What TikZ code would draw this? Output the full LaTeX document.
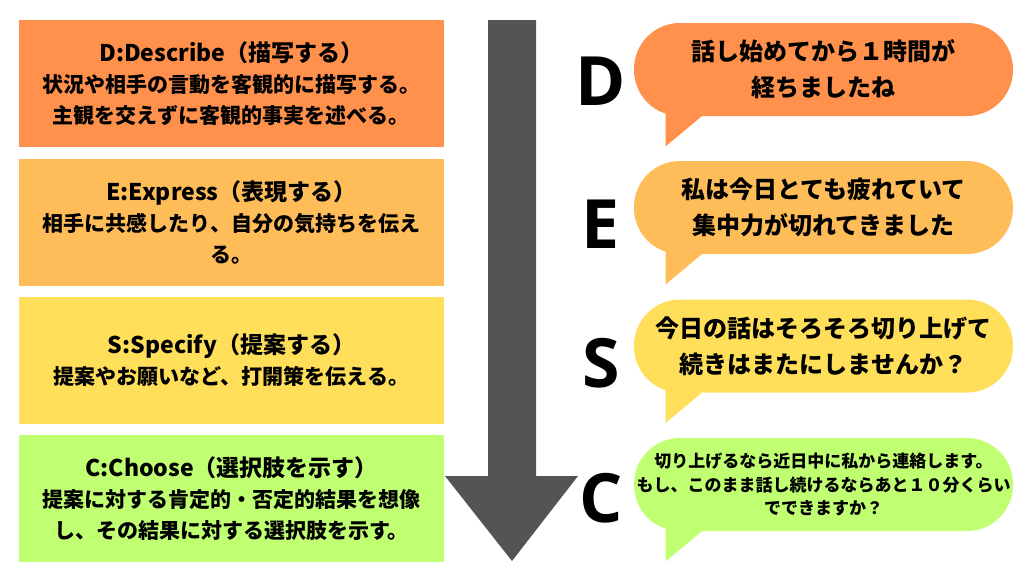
\documentclass[tikz,border=0pt]{standalone}
\usepackage{fontspec}
\setmainfont{Noto Sans CJK JP}
\newfontfamily\letterfont{Open Sans}
\usepackage{tikz}
\usetikzlibrary{positioning}
\definecolor{desccol}{HTML}{FF914D}
\definecolor{exprcol}{HTML}{FFBD59}
\definecolor{speccol}{HTML}{FFDE59}
\definecolor{choocol}{HTML}{C1FF72}
\definecolor{arrowgray}{HTML}{545454}

\begin{document}
\begin{tikzpicture}[x=0.5pt, y=-0.5pt,
  stepbox/.style={rectangle, minimum width=212.5pt, minimum height=63.5pt,
                  inner sep=0pt, align=center,
                  font=\bfseries\fontsize{10.5}{15.5}\selectfont},
  bubble/.style={rectangle, rounded corners=23pt, minimum width=189.5pt,
                 minimum height=46.5pt, inner sep=0pt, align=center,
                 font=\bfseries\fontsize{12}{18}\selectfont},
  letter/.style={font=\letterfont\bfseries\fontsize{34}{34}\selectfont,
                 inner sep=0pt}
]
\useasboundingbox (0,0) rectangle (1024,575);

% Big arrow down the middle
\fill[arrowgray] (488,20) -- (536,20) -- (536,476) -- (578,476)
      -- (512,561) -- (445,476) -- (488,476) -- cycle;

% Step boxes on the left
\node[stepbox, fill=desccol] (d) at (231.5,83.5)
      {{\fontsize{11.5}{15.5}\selectfont D:Describe（描写する）}\\
       状況や相手の言動を客観的に描写する。\\
       主観を交えずに客観的事実を述べる。};

\node[stepbox, fill=exprcol] (e) at (231.5,222)
      {{\fontsize{11.5}{15.5}\selectfont E:Express（表現する）}\\
       相手に共感したり、自分の気持ちを伝え\\
       る。};

\node[stepbox, fill=speccol] (s) at (231.5,360)
      {{\fontsize{11.5}{15.5}\selectfont S:Specify（提案する）}\\
       提案やお願いなど、打開策を伝える。};

\node[stepbox, fill=choocol] (c) at (231.5,498.5)
      {{\fontsize{11.5}{15.5}\selectfont C:Choose（選択肢を示す）}\\
       提案に対する肯定的・否定的結果を想像\\
       し、その結果に対する選択肢を示す。};

% Letters
\foreach \t/\y in {D/81, E/224, S/363, C/498}
  \node[letter] (l\t) at (601,\y) {\t};

% Speech bubbles
\node[bubble, fill=desccol] (b1) at (823.5,69.5)
      {話し始めてから１時間が\\ 経ちましたね};
\node[bubble, fill=exprcol] (b2) at (823.5,207.5)
      {私は今日とても疲れていて\\ 集中力が切れてきました};
\node[bubble, fill=speccol] (b3) at (823.5,346)
      {今日の話はそろそろ切り上げて\\ 続きはまたにしませんか？};
\node[bubble, fill=choocol, font=\bfseries\fontsize{8.5}{11.75}\selectfont]
      (b4) at (823.5,484.5)
      {切り上げるなら近日中に私から連絡します。\\
       もし、このまま話し続けるならあと１０分くらい\\
       でできますか？};

% Bubble tails
\foreach \b/\c in {b1/desccol, b2/exprcol, b3/speccol, b4/choocol}
  \fill[\c] ([xshift=16pt, yshift=12pt]\b.south west)
        -- ([xshift=16pt, yshift=-15pt]\b.south west)
        -- ([xshift=34pt]\b.south west) -- cycle;

\end{tikzpicture}
\end{document}
